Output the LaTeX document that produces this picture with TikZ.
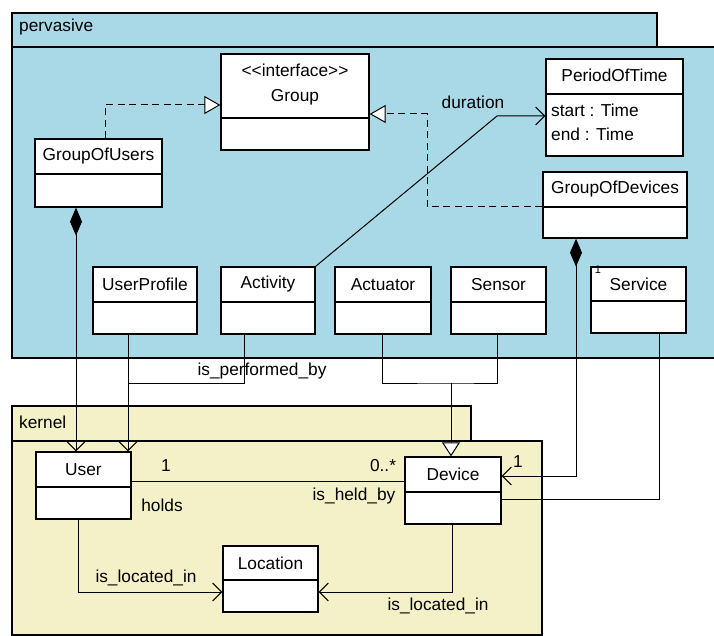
\documentclass[tikz,border=0pt]{standalone}
\usepackage{fontspec}
\setmainfont{Liberation Sans}
\usetikzlibrary{arrows.meta}
\definecolor{pkgblue}{HTML}{A9D8E7}
\definecolor{pkgyellow}{HTML}{F4F0C8}
\tikzset{
  txt/.style={font=\fontsize{17.3}{20}\selectfont, inner sep=0pt},
  classbox/.style={draw, line width=1.3pt, fill=white, inner sep=0pt},
  classline/.style={line width=1.2pt},
  pkg/.style={draw, line width=1.2pt},
  conn/.style={line width=1pt},
  nav/.style={conn, -{Straight Barb[length=9pt,width=18pt,line width=1pt]}},
  realize/.style={conn, dash pattern=on 7pt off 4.5pt, -{Triangle[open,length=16pt,width=18pt,fill=white,line width=1pt]}},
  gen/.style={conn, -{Triangle[open,length=14pt,width=18pt,fill=white,line width=1pt]}},
  comp/.style={conn, {Diamond[length=28pt,width=12pt]}-{Straight Barb[length=9pt,width=18pt,line width=1pt]}}
}
% class box: name, x1, y1, x2, y2, divider y, title
\newcommand{\umlclass}[7]{%
  \node[classbox, minimum width={#4-#2}, minimum height={#5-#3}] (#1) at ({(#2+#4)/2},{(#3+#5)/2}) {};
  \draw[classline] (#2,#6) -- (#4,#6);
  \node[txt] (#1-name) at ({(#2+#4)/2},{(#3+#6)/2}) {#7};
}
\begin{document}
\begin{tikzpicture}[x=1pt,y=-1pt]
\useasboundingbox (0,0) rectangle (714,636);

% packages
\path[pkg, fill=pkgblue] (12,13) rectangle (657,47);
\path[pkg, fill=pkgblue] (12,47) rectangle (720,358);
\node[txt, anchor=west] (pervlabel) at (19,27) {pervasive};

\path[pkg, fill=pkgyellow] (12,406) rectangle (471,441);
\path[pkg, fill=pkgyellow] (12,441) rectangle (542,635);
\node[txt, anchor=west] (kernlabel) at (19,422) {kernel};

% classes of the pervasive package
\node[classbox, minimum width=148pt, minimum height=96pt] (group) at (295,102) {};
\draw[classline] (221,118) -- (369,118);
\node[txt] (group-st) at (295,70) {<{}<interface>{}>};
\node[txt] (group-name) at (295,97) {Group};

\umlclass{gou}{35}{139}{162}{207}{174}{GroupOfUsers}

\node[classbox, minimum width=137pt, minimum height=97pt] (pot) at (614.5,107.5) {};
\draw[classline] (546,94) -- (683,94);
\node[txt] (pot-name) at (614.5,75) {PeriodOfTime};
\node[txt, anchor=west] (pot-a1) at (551,110) {start : Time};
\node[txt, anchor=west] (pot-a2) at (551,134) {end : Time};

\umlclass{god}{543}{172}{687}{238}{207}{GroupOfDevices}

\umlclass{up}{93}{267}{197}{334}{302}{UserProfile}
\umlclass{act}{221}{267}{315}{334}{302}{Activity}
\umlclass{actu}{335}{267}{431}{334}{302}{Actuator}
\umlclass{sen}{451}{267}{546}{334}{302}{Sensor}
\umlclass{svc}{591}{267}{686}{333}{301}{Service}
\node[font=\fontsize{11}{13}\selectfont, inner sep=0pt] (svc-mult) at (598,270) {1};

% classes of the kernel package
\umlclass{user}{36}{452}{131}{519}{487}{User}
\umlclass{dev}{405}{457}{501}{524}{492}{Device}
\umlclass{loc}{223}{546}{318}{612}{580}{Location}

% bend points
\coordinate (gbend) at (427,114);
\coordinate (dbend) at (497,116);
\coordinate (perf) at (128,383);
\coordinate (jn) at (451,383);
\coordinate (cb) at (576,476);
\coordinate (sb) at (659,499);
\coordinate (ua) at (0,481);
\coordinate (ul) at (78,592);
\coordinate (dl) at (452,592);

% realizations of Group
\draw[realize] ([xshift=6.5pt]gou.north) |- ([yshift=-3pt]group.west);
\draw[realize] ([yshift=-2pt]god.west) -| (gbend) -- (gbend -| group.east);

% duration
\draw[nav] (act.north east) -- (dbend) -- (dbend -| pot.west);
\node[txt] (durlabel) at (473,102) {duration};

% compositions
\draw[comp] (gou.south -| 76,0) -- (76,0 |- user.north);
\draw[comp] (god.south -| cb) -- (cb) -- (cb -| dev.east);
\node[txt] (devmult) at (518,462) {1};

% is_performed_by
\draw[nav] (up.south -| perf) -- (perf |- user.north);
\draw[conn] ([xshift=-24pt]act.south) |- (perf);
\node[txt] (perflabel) at (262,371) {is\_performed\_by};

% Actuator and Sensor specialise Device
\draw[conn] (actu.south -| 382,0) |- (jn) -| (sen.south -| 497,0);
\draw[gen] (jn) -- (jn |- dev.north);

% Service uses Device
\draw[conn] (svc.south -| sb) -- (sb) -- (sb -| dev.east);

% holds / is_held_by
\draw[conn] (user.east |- ua) -- (dev.west |- ua);
\node[txt] (m1) at (166,466) {1};
\node[txt] (holds) at (162,505) {holds};
\node[txt] (m2) at (383,466) {0..*};
\node[txt] (heldby) at (354,496) {is\_held\_by};

% is_located_in
\draw[nav] (user.south -| ul) -- (ul) -- (ul -| loc.west);
\node[txt] (loc1) at (146,578) {is\_located\_in};
\draw[nav] (dev.south -| dl) -- (dl) -- (dl -| loc.east);
\node[txt] (loc2) at (438,606) {is\_located\_in};
\end{tikzpicture}
\end{document}
